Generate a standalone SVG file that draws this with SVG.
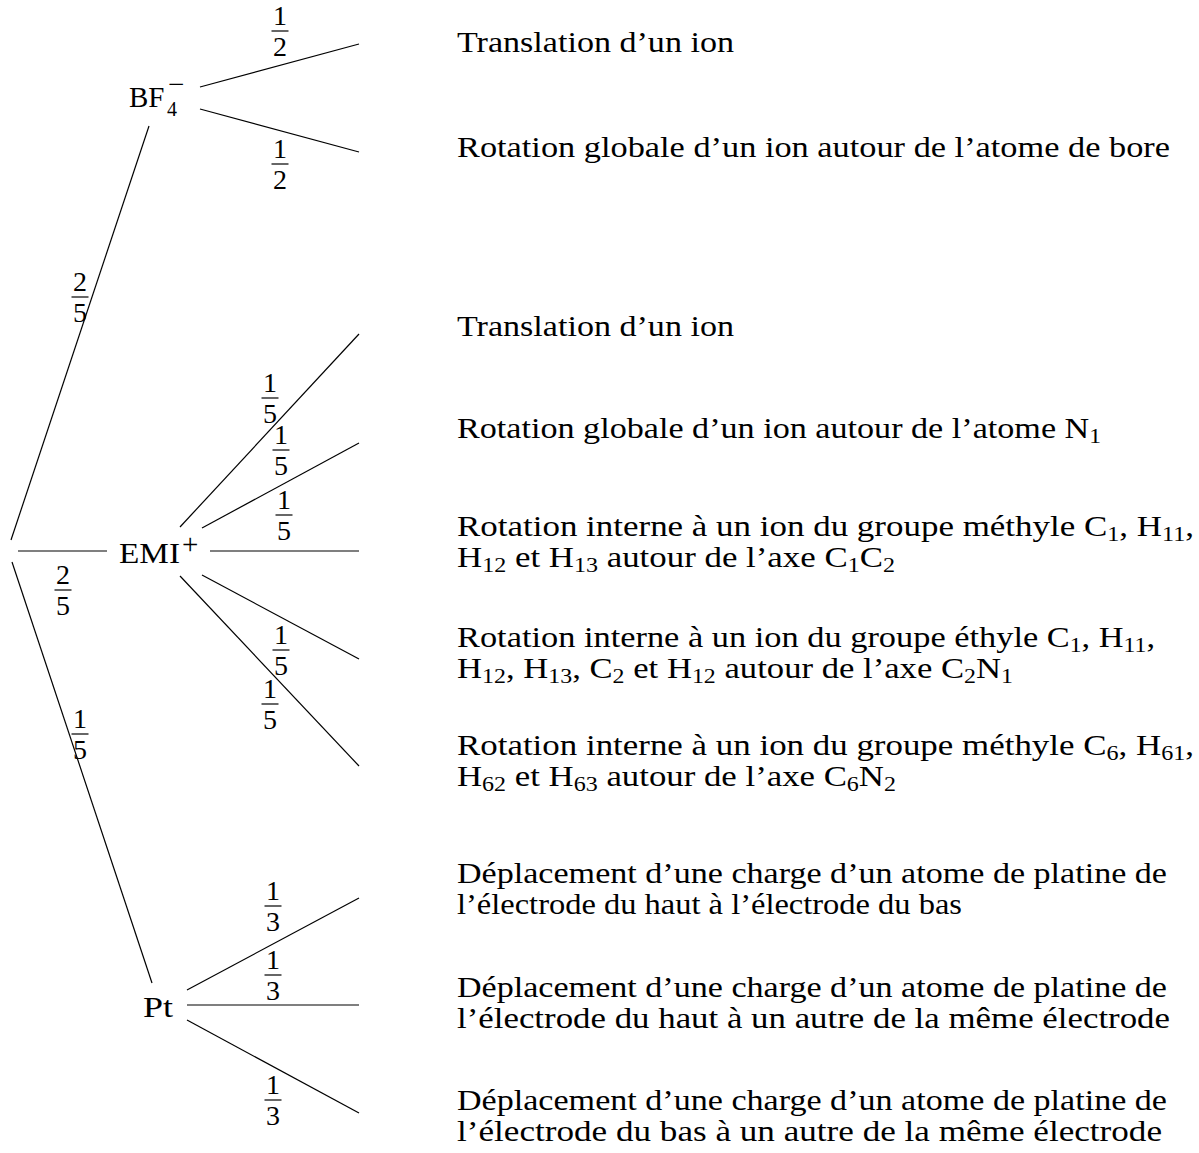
<svg xmlns="http://www.w3.org/2000/svg" width="1199" height="1153" viewBox="0 0 1199 1153">
<style>
text{font-family:"Liberation Serif","Times New Roman",serif;font-size:29px;fill:#000}
.s{font-size:20px}
.f text{text-anchor:middle;font-size:28px}
line{stroke:#000;stroke-width:1.2}
</style>
<rect width="1199" height="1153" fill="#fff"/>
<g id="connectors">
<line x1="11" y1="540" x2="149" y2="126"/>
<line x1="18" y1="551" x2="107" y2="551"/>
<line x1="12" y1="562" x2="152" y2="983"/>
<line x1="200" y1="87" x2="359" y2="44"/>
<line x1="200" y1="109" x2="359" y2="152"/>
<line x1="180" y1="527" x2="359" y2="334"/>
<line x1="202" y1="528" x2="359" y2="443"/>
<line x1="210" y1="551" x2="359" y2="551"/>
<line x1="202" y1="575" x2="359" y2="659"/>
<line x1="180" y1="576" x2="359" y2="766"/>
<line x1="187" y1="990" x2="359" y2="898"/>
<line x1="187" y1="1005" x2="359" y2="1005"/>
<line x1="187" y1="1020" x2="359" y2="1113"/>
</g>
<g id="fractions" class="f">
<g transform="translate(280,31)"><text y="-6">1</text><line x1="-8.5" x2="8.5"/><text y="25">2</text></g>
<g transform="translate(280,164)"><text y="-6">1</text><line x1="-8.5" x2="8.5"/><text y="25">2</text></g>
<g transform="translate(80,297)"><text y="-6">2</text><line x1="-8.5" x2="8.5"/><text y="25">5</text></g>
<g transform="translate(63,590)"><text y="-6">2</text><line x1="-8.5" x2="8.5"/><text y="25">5</text></g>
<g transform="translate(80,734)"><text y="-6">1</text><line x1="-8.5" x2="8.5"/><text y="25">5</text></g>
<g transform="translate(270,398)"><text y="-6">1</text><line x1="-8.5" x2="8.5"/><text y="25">5</text></g>
<g transform="translate(281,450)"><text y="-6">1</text><line x1="-8.5" x2="8.5"/><text y="25">5</text></g>
<g transform="translate(284,515)"><text y="-6">1</text><line x1="-8.5" x2="8.5"/><text y="25">5</text></g>
<g transform="translate(281,650)"><text y="-6">1</text><line x1="-8.5" x2="8.5"/><text y="25">5</text></g>
<g transform="translate(270,704)"><text y="-6">1</text><line x1="-8.5" x2="8.5"/><text y="25">5</text></g>
<g transform="translate(273,906)"><text y="-6">1</text><line x1="-8.5" x2="8.5"/><text y="25">3</text></g>
<g transform="translate(273,975)"><text y="-6">1</text><line x1="-8.5" x2="8.5"/><text y="25">3</text></g>
<g transform="translate(273,1100)"><text y="-6">1</text><line x1="-8.5" x2="8.5"/><text y="25">3</text></g>
</g>
<g id="node-bf4"><text x="129" y="107">BF</text><text class="s" x="167" y="116">4</text><text x="168" y="94" font-size="22">−</text></g>
<g id="node-emi"><text x="119" y="563" textLength="61" lengthAdjust="spacingAndGlyphs">EMI</text><text x="182" y="554" font-size="22">+</text></g>
<g id="node-pt"><text x="143" y="1017" textLength="30" lengthAdjust="spacingAndGlyphs">Pt</text></g>
<g id="leaf-bf4-1"><text x="457" y="52" textLength="277" lengthAdjust="spacingAndGlyphs">Translation d’un ion</text></g>
<g id="leaf-bf4-2"><text x="457" y="157" textLength="713" lengthAdjust="spacingAndGlyphs">Rotation globale d’un ion autour de l’atome de bore</text></g>
<g id="leaf-emi-1"><text x="457" y="336" textLength="277" lengthAdjust="spacingAndGlyphs">Translation d’un ion</text></g>
<g id="leaf-emi-2"><text x="457" y="438" textLength="644" lengthAdjust="spacingAndGlyphs">Rotation globale d’un ion autour de l’atome N<tspan class="s" dy="5">1</tspan></text></g>
<g id="leaf-emi-3">
<text x="457" y="536" textLength="737" lengthAdjust="spacingAndGlyphs">Rotation interne à un ion du groupe méthyle C<tspan class="s" dy="5">1</tspan><tspan dy="-5">, H</tspan><tspan class="s" dy="5">11</tspan><tspan dy="-5">,</tspan></text>
<text x="457" y="567" textLength="438" lengthAdjust="spacingAndGlyphs">H<tspan class="s" dy="5">12</tspan><tspan dy="-5"> et H</tspan><tspan class="s" dy="5">13</tspan><tspan dy="-5"> autour de l’axe C</tspan><tspan class="s" dy="5">1</tspan><tspan dy="-5">C</tspan><tspan class="s" dy="5">2</tspan></text>
</g>
<g id="leaf-emi-4">
<text x="457" y="647" textLength="698" lengthAdjust="spacingAndGlyphs">Rotation interne à un ion du groupe éthyle C<tspan class="s" dy="5">1</tspan><tspan dy="-5">, H</tspan><tspan class="s" dy="5">11</tspan><tspan dy="-5">,</tspan></text>
<text x="457" y="678" textLength="556" lengthAdjust="spacingAndGlyphs">H<tspan class="s" dy="5">12</tspan><tspan dy="-5">, H</tspan><tspan class="s" dy="5">13</tspan><tspan dy="-5">, C</tspan><tspan class="s" dy="5">2</tspan><tspan dy="-5"> et H</tspan><tspan class="s" dy="5">12</tspan><tspan dy="-5"> autour de l’axe C</tspan><tspan class="s" dy="5">2</tspan><tspan dy="-5">N</tspan><tspan class="s" dy="5">1</tspan></text>
</g>
<g id="leaf-emi-5">
<text x="457" y="755" textLength="737" lengthAdjust="spacingAndGlyphs">Rotation interne à un ion du groupe méthyle C<tspan class="s" dy="5">6</tspan><tspan dy="-5">, H</tspan><tspan class="s" dy="5">61</tspan><tspan dy="-5">,</tspan></text>
<text x="457" y="786" textLength="439" lengthAdjust="spacingAndGlyphs">H<tspan class="s" dy="5">62</tspan><tspan dy="-5"> et H</tspan><tspan class="s" dy="5">63</tspan><tspan dy="-5"> autour de l’axe C</tspan><tspan class="s" dy="5">6</tspan><tspan dy="-5">N</tspan><tspan class="s" dy="5">2</tspan></text>
</g>
<g id="leaf-pt-1">
<text x="457" y="883" textLength="710" lengthAdjust="spacingAndGlyphs">Déplacement d’une charge d’un atome de platine de</text>
<text x="457" y="914" textLength="505" lengthAdjust="spacingAndGlyphs">l’électrode du haut à l’électrode du bas</text>
</g>
<g id="leaf-pt-2">
<text x="457" y="997" textLength="710" lengthAdjust="spacingAndGlyphs">Déplacement d’une charge d’un atome de platine de</text>
<text x="457" y="1028" textLength="713" lengthAdjust="spacingAndGlyphs">l’électrode du haut à un autre de la même électrode</text>
</g>
<g id="leaf-pt-3">
<text x="457" y="1110" textLength="710" lengthAdjust="spacingAndGlyphs">Déplacement d’une charge d’un atome de platine de</text>
<text x="457" y="1141" textLength="705" lengthAdjust="spacingAndGlyphs">l’électrode du bas à un autre de la même électrode</text>
</g>
</svg>
